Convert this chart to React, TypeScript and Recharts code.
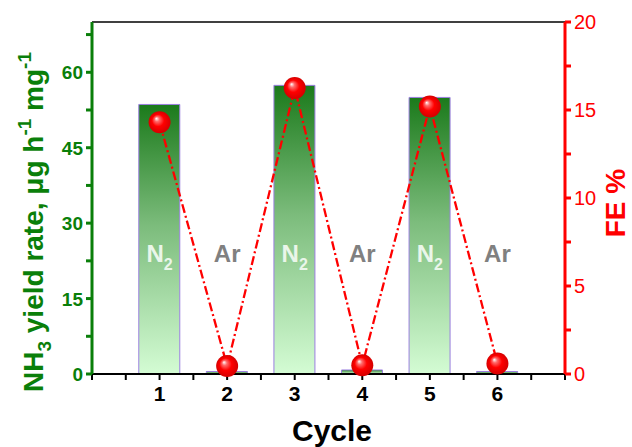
import React from 'react';
import {
  ComposedChart,
  Bar,
  Line,
  XAxis,
  YAxis,
  ReferenceLine,
  ReferenceDot,
} from 'recharts';

const cycles = [1, 2, 3, 4, 5, 6];
const yieldRate = [53.6, 0.5, 57.4, 0.8, 55.0, 0.5];
const faradaicEff = [14.3, 0.45, 16.25, 0.5, 15.2, 0.6];
const gasLabels = ['N2', 'Ar', 'N2', 'Ar', 'N2', 'Ar'];

const xTicks = [0, 0.5, 1, 1.5, 2, 2.5, 3, 3.5, 4, 4.5, 5, 5.5, 6, 6.5, 7];
const leftTicks = [0, 7.5, 15, 22.5, 30, 37.5, 45, 52.5, 60, 67.5];
const rightTicks = [0, 2.5, 5, 7.5, 10, 12.5, 15, 17.5, 20];

const FONT = '"Liberation Sans", Arial, sans-serif';
const GREEN = '#0a7f0a';
const RED = '#ff0000';

const data = cycles.map((c, i) => ({
  cycle: c,
  yieldRate: yieldRate[i],
  fe: faradaicEff[i],
}));

function XTick(props: any) {
  const { x, y, payload } = props;
  if (!Number.isInteger(payload.value) || payload.value === 0 || payload.value === 7) return null;
  return (
    <text x={x} y={y + 19} textAnchor="middle" fontSize={21} fontWeight="bold" fill="#000" fontFamily={FONT}>
      {payload.value}
    </text>
  );
}

function LeftTick(props: any) {
  const { x, y, payload } = props;
  if (payload.value % 15 !== 0) return null;
  return (
    <text x={x} y={y} dy={7} textAnchor="end" fontSize={19} fontWeight="bold" fill={GREEN} fontFamily={FONT}>
      {payload.value}
    </text>
  );
}

function RightTick(props: any) {
  const { x, y, payload } = props;
  if (payload.value % 5 !== 0) return null;
  return (
    <text x={x} y={y} dy={7} textAnchor="start" fontSize={20} fill={RED} fontFamily={FONT}>
      {payload.value}
    </text>
  );
}

function Ball(props: any) {
  const { cx, cy } = props;
  if (cx == null || cy == null) return null;
  return <circle cx={cx} cy={cy} r={11} fill="url(#ball)" />;
}

function gasLabel(text: string) {
  return (props: any) => {
    const { viewBox } = props;
    const cx = viewBox.x + (viewBox.width || 0) / 2;
    const cy = viewBox.y + (viewBox.height || 0) / 2;
    const isN2 = text === 'N2';
    return (
      <text
        x={cx}
        y={cy + 9}
        textAnchor="middle"
        fontSize={24}
        fontWeight="bold"
        fontFamily={FONT}
        fill={isN2 ? '#eaf6ea' : '#808080'}
      >
        {isN2 ? (
          <>
            N<tspan fontSize={16} dy={8}>2</tspan>
          </>
        ) : (
          text
        )}
      </text>
    );
  };
}

function LeftTitle() {
  return (
    <text
      transform="translate(43, 222) rotate(-90)"
      textAnchor="middle"
      fontSize={28}
      fontWeight="bold"
      fill={GREEN}
      fontFamily={FONT}
    >
      NH<tspan fontSize={19} dy={8}>3</tspan>
      <tspan dy={-8}> yield rate, μg h</tspan>
      <tspan fontSize={19} dy={-12}>-1</tspan>
      <tspan dy={12}> mg</tspan>
      <tspan fontSize={19} dy={-12}>-1</tspan>
    </text>
  );
}

function RightTitle() {
  return (
    <text
      transform="translate(625, 203) rotate(-90)"
      textAnchor="middle"
      fontSize={28}
      fontWeight="bold"
      fill={RED}
      fontFamily={FONT}
    >
      FE %
    </text>
  );
}

function XTitle() {
  return (
    <text x={332} y={441} textAnchor="middle" fontSize={30} fontWeight="bold" fill="#000" fontFamily={FONT}>
      Cycle
    </text>
  );
}

export default function App() {
  return (
    <div style={{ position: 'absolute', left: 0, top: 0, width: 632, height: 447, background: '#fff' }}>
      <ComposedChart
        width={632}
        height={447}
        data={data}
        margin={{ top: 22, right: 0, bottom: 0, left: 0 }}
      >
        <defs>
          <linearGradient id="barGrad" x1="0" y1="0" x2="0" y2="1">
            <stop offset="0%" stopColor="#1b7a1b" />
            <stop offset="45%" stopColor="#7cbc7c" />
            <stop offset="100%" stopColor="#d4fcd4" />
          </linearGradient>
          <radialGradient id="ball" cx="50%" cy="50%" r="50%" fx="35%" fy="32%">
            <stop offset="0%" stopColor="#ffffff" />
            <stop offset="22%" stopColor="#ff6a6a" />
            <stop offset="55%" stopColor="#ff0000" />
            <stop offset="100%" stopColor="#d40000" />
          </radialGradient>
        </defs>
        <XAxis
          dataKey="cycle"
          type="number"
          domain={[0, 7]}
          ticks={xTicks}
          interval={0}
          height={73}
          stroke="#000"
          strokeWidth={2}
          tickSize={6}
          tick={<XTick />}
          label={<XTitle />}
        />
        <YAxis
          yAxisId="left"
          orientation="left"
          domain={[0, 70]}
          ticks={leftTicks}
          interval={0}
          width={92}
          stroke={GREEN}
          strokeWidth={3}
          tickSize={6}
          tickMargin={3}
          tick={<LeftTick />}
          label={<LeftTitle />}
        />
        <YAxis
          yAxisId="right"
          orientation="right"
          domain={[0, 20]}
          ticks={rightTicks}
          interval={0}
          width={67}
          stroke={RED}
          strokeWidth={3}
          tickSize={6}
          tickMargin={3}
          tick={<RightTick />}
          label={<RightTitle />}
        />
        <ReferenceLine yAxisId="left" y={70} stroke="#000" strokeWidth={1.5} />
        <Bar
          yAxisId="left"
          dataKey="yieldRate"
          barSize={41}
          fill="url(#barGrad)"
          stroke="#9b7fe0"
          strokeWidth={1}
          isAnimationActive={false}
        />
        {cycles.map((c, i) => (
          <ReferenceDot
            key={c}
            yAxisId="left"
            x={c}
            y={24}
            r={0}
            stroke="none"
            fill="none"
            label={gasLabel(gasLabels[i])}
          />
        ))}
        <Line
          yAxisId="right"
          dataKey="fe"
          stroke={RED}
          strokeWidth={2.3}
          strokeDasharray="9 3 2 3"
          dot={<Ball />}
          activeDot={false}
          isAnimationActive={false}
        />
      </ComposedChart>
    </div>
  );
}
